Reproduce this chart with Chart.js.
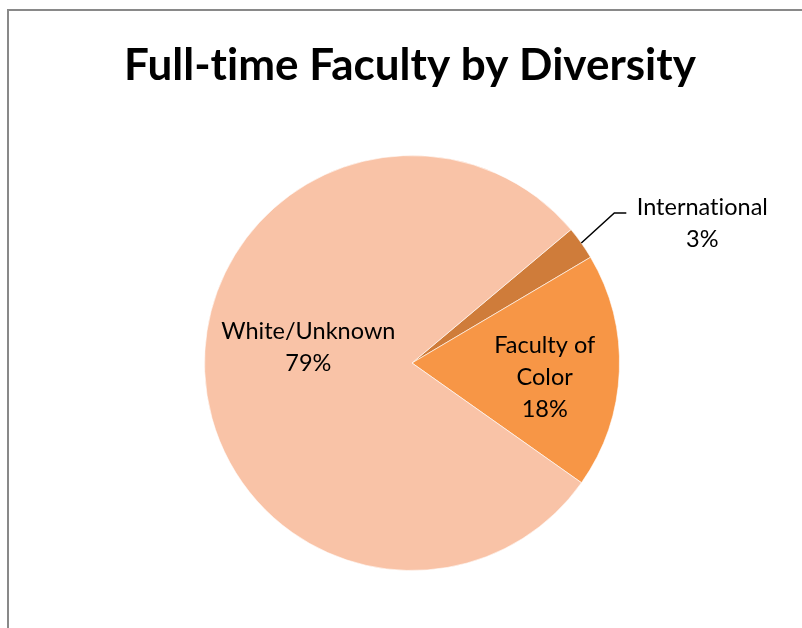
<!DOCTYPE html>
<html>
<head>
<meta charset="utf-8">
<script src="https://cdn.jsdelivr.net/npm/chart.js@4/dist/chart.umd.min.js"></script>
<style>
  html, body { margin: 0; padding: 0; background: #fff; overflow: hidden; }
  #wrap { position: relative; width: 802px; height: 628px; }
  #frame { position: absolute; left: 7px; top: 9px; width: 820px; height: 640px; border: 2px solid #898989; box-sizing: border-box; }
  canvas { position: absolute; left: 0; top: 0; }
</style>
</head>
<body>
<div id="wrap">
  <div id="frame"></div>
  <canvas id="c" width="802" height="628"></canvas>
</div>
<script>
const titleText = "Full-time Faculty by Diversity";
const categories = ["International", "Faculty of Color", "White/Unknown"];
const values = [2.6, 18.3, 79.1];
const colors = ["#CF7C3A", "#F79646", "#F9C3A7"];

const labelPlugin = {
  id: 'sliceLabels',
  afterDraw(chart) {
    const ctx = chart.ctx;
    const meta = chart.getDatasetMeta(0);
    const total = values.reduce((a, b) => a + b, 0);
    ctx.save();
    try { ctx.letterSpacing = '0.01px'; } catch (e) {}
    // title
    ctx.fillStyle = '#000';
    ctx.textAlign = 'center';
    ctx.textBaseline = 'alphabetic';
    ctx.font = 'bold 44px Lato';
    ctx.fillText(titleText, 410, 80);

    ctx.font = '23.5px Lato';
    ctx.textBaseline = 'middle';
    const lineH = 32;
    meta.data.forEach((arc, i) => {
      const p = arc.getProps(['x', 'y', 'startAngle', 'endAngle', 'outerRadius'], true);
      const mid = (p.startAngle + p.endAngle) / 2;
      const pct = Math.round(values[i] / total * 100) + '%';
      if (i === 0) {
        const ex = p.x + Math.cos(mid) * p.outerRadius;
        const ey = p.y + Math.sin(mid) * p.outerRadius;
        const kx = ex + 33, ky = ey - 30;
        ctx.strokeStyle = '#000';
        ctx.lineWidth = 1.5;
        ctx.beginPath();
        ctx.moveTo(ex, ey);
        ctx.lineTo(kx, ky);
        ctx.lineTo(kx + 12, ky);
        ctx.stroke();
        const tx = kx + 88;
        ctx.fillText(categories[i], tx, ky - 6);
        ctx.fillText(pct, tx, ky - 6 + lineH);
      } else {
        let lines, frac, dx = 0, dy = 0;
        if (i === 1) { lines = ['Faculty of', 'Color', pct]; frac = 0.64; dy = 9; }
        else { lines = [categories[i], pct]; frac = 0.5; dy = -20; }
        const cx = p.x + Math.cos(mid) * p.outerRadius * frac + dx;
        const cy = p.y + Math.sin(mid) * p.outerRadius * frac + dy;
        const startY = cy - (lines.length - 1) * lineH / 2;
        lines.forEach((t, k) => ctx.fillText(t, cx, startY + k * lineH));
      }
    });
    ctx.restore();
  }
};

new Chart(document.getElementById('c'), {
  type: 'pie',
  data: {
    labels: categories,
    datasets: [{
      data: values,
      backgroundColor: colors,
      borderColor: 'rgba(255,255,255,0.6)',
      borderWidth: 1
    }]
  },
  options: {
    responsive: false,
    animation: false,
    rotation: 50,
    layout: { padding: { left: 204, right: 182, top: 155, bottom: 57 } },
    plugins: {
      legend: { display: false },
      tooltip: { enabled: false },
      title: { display: false }
    }
  },
  plugins: [labelPlugin]
});
</script>
</body>
</html>
